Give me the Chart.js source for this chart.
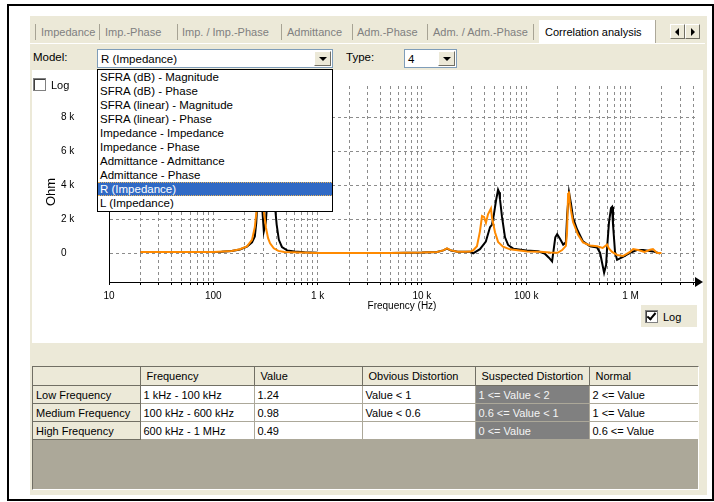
<!DOCTYPE html>
<html>
<head>
<meta charset="utf-8">
<script src="https://cdn.jsdelivr.net/npm/chart.js@4.4.1/dist/chart.umd.min.js"></script>
<style>
  body { margin: 0; width: 714px; height: 502px; position: relative; overflow: hidden; background: #fff;
         font-family: "Liberation Sans", Arial, sans-serif; font-size: 11.5px; color: #000; }
  .abs { position: absolute; }
  #frame { left: 7px; top: 4px; width: 703px; height: 493px; border: 2px solid #000; }
  #panel { left: 30px; top: 16px; width: 677px; height: 479px; background: #ece9d8; }
  .tab { top: 25px; line-height: 14px; color: #808080; white-space: nowrap; font-size: 11px; }
  .sep { top: 24px; width: 1px; height: 16px; background: #a7a394; }
  #selTab { left: 539px; top: 20px; width: 116px; height: 23px; background: #fff; border-right: 1px solid #aca899; }
  #selTab span { position: absolute; left: 6px; top: 5px; line-height: 14px; white-space: nowrap; font-size: 11px; }
  #tabLine { left: 30px; top: 43px; width: 675px; height: 1px; background: #fff; }
  .arrBtn { top: 24px; width: 13px; height: 13px; background: #ece9d8;
            border-top: 1px solid #fff; border-left: 1px solid #fff; border-right: 1px solid #716f64; border-bottom: 1px solid #716f64; }
  .tri { position: absolute; top: 3px; width: 0; height: 0; border-top: 4px solid transparent; border-bottom: 4px solid transparent; }
  .lbl { line-height: 14px; white-space: nowrap; }
  .combo { top: 49px; height: 17px; background: #fff; border: 1px solid #7f9db9; }
  .combo span { position: absolute; left: 3px; top: 2px; line-height: 14px; white-space: nowrap; }
  .cbtn { position: absolute; top: 1px; right: 1px; width: 15px; height: 13px; background: #ece9d8;
          border-top: 1px solid #fff; border-left: 1px solid #fff; border-right: 1px solid #716f64; border-bottom: 1px solid #716f64; }
  .cbtn i { position: absolute; left: 4px; top: 5px; width: 0; height: 0; border-left: 4px solid transparent; border-right: 4px solid transparent; border-top: 4px solid #000; }
  #plot { left: 32px; top: 70px; width: 671px; height: 273px; background: #fff; }
  .chk { width: 11px; height: 11px; background: #fff; border: 1px solid #808080; box-shadow: inset 1px 1px 0 #404040; }
  .tick { position: absolute; left: 3px; top: 0px; width: 3px; height: 7px; border-right: 2px solid #000; border-bottom: 2px solid #000; transform: rotate(40deg); }
  #logBox { left: 641px; top: 305px; width: 56px; height: 22px; background: #ece9d8; }
  #drop { left: 97px; top: 69px; width: 234px; height: 141px; background: #fff; border: 1px solid #000; z-index: 5;
          font-size: 11.5px; }
  #drop div { height: 14px; line-height: 14px; padding-left: 2px; white-space: nowrap; box-sizing: border-box; }
  #drop div.on { background: #316ac5; color: #fff; border-top: 1px dotted #e6b35c; border-bottom: 1px dotted #e6b35c; line-height: 12px; }
  #grid { left: 32px; top: 366px; width: 665px; height: 122px; background: #aca899;
          border-top: 1px solid #716f64; border-left: 1px solid #716f64; border-right: 1px solid #fff; border-bottom: 1px solid #fff; overflow: hidden; }
  #grid table { border-collapse: collapse; table-layout: fixed; width: 665px; font-size: 11px; }
  #grid th, #grid td { height: 17px; padding: 0 0 0 3px; text-align: left; font-weight: normal; white-space: nowrap; overflow: hidden; }
  #grid th { background: #ece9d8; border-right: 1px solid #716f64; border-bottom: 1px solid #716f64; }
  #grid tr.hd th { padding-left: 6px; height: 18px; }
  #grid td { background: #fff; border-right: 1px solid #aca899; border-bottom: 1px solid #aca899; }
  #grid td.sus { background: #808080; color: #f4f4f4; }
</style>
</head>
<body>
<div id="frame" class="abs"></div>
<div id="panel" class="abs"></div>

<!-- tab strip -->
<div class="abs sep" style="left:35px"></div>
<div class="abs tab" style="left:41px">Impedance</div>
<div class="abs sep" style="left:99px"></div>
<div class="abs tab" style="left:105px">Imp.-Phase</div>
<div class="abs sep" style="left:177px"></div>
<div class="abs tab" style="left:182px">Imp. / Imp.-Phase</div>
<div class="abs sep" style="left:281px"></div>
<div class="abs tab" style="left:287px">Admittance</div>
<div class="abs sep" style="left:352px"></div>
<div class="abs tab" style="left:357px">Adm.-Phase</div>
<div class="abs sep" style="left:427px"></div>
<div class="abs tab" style="left:433px">Adm. / Adm.-Phase</div>
<div class="abs sep" style="left:533px"></div>
<div id="tabLine" class="abs"></div>
<div id="selTab" class="abs"><span>Correlation analysis</span></div>
<div class="abs arrBtn" style="left:670px"><i class="tri" style="left:4px;border-right:4px solid #000"></i></div>
<div class="abs arrBtn" style="left:685px"><i class="tri" style="left:5px;border-left:4px solid #000"></i></div>

<!-- model / type selectors -->
<div class="abs lbl" style="left:33px;top:50px">Model:</div>
<div class="abs combo" style="left:97px;width:234px"><span>R (Impedance)</span><div class="cbtn"><i></i></div></div>
<div class="abs lbl" style="left:346px;top:50px">Type:</div>
<div class="abs combo" style="left:404px;width:51px"><span>4</span><div class="cbtn"><i></i></div></div>

<div id="plot" class="abs"><canvas id="corrChart" width="671" height="273"></canvas></div>

<!-- log checkboxes -->
<div class="abs chk" style="left:33px;top:78px"></div>
<div class="abs lbl" style="left:51px;top:78px;font-size:11px">Log</div>
<div id="logBox" class="abs"></div>
<div class="abs chk" style="left:645px;top:310px"><div class="tick"></div></div>
<div class="abs lbl" style="left:663px;top:310px;font-size:11px">Log</div>

<!-- open model list -->
<div id="drop" class="abs">
  <div>SFRA (dB) - Magnitude</div>
  <div>SFRA (dB) - Phase</div>
  <div>SFRA (linear) - Magnitude</div>
  <div>SFRA (linear) - Phase</div>
  <div>Impedance - Impedance</div>
  <div>Impedance - Phase</div>
  <div>Admittance - Admittance</div>
  <div>Admittance - Phase</div>
  <div class="on">R (Impedance)</div>
  <div>L (Impedance)</div>
</div>

<!-- result grid -->
<div id="grid" class="abs">
<table>
  <colgroup><col style="width:107px"><col style="width:114px"><col style="width:108px"><col style="width:113px"><col style="width:114px"><col style="width:109px"></colgroup>
  <tr class="hd"><th></th><th>Frequency</th><th>Value</th><th>Obvious Distortion</th><th>Suspected Distortion</th><th>Normal</th></tr>
  <tr><th>Low Frequency</th><td>1 kHz - 100 kHz</td><td>1.24</td><td>Value &lt; 1</td><td class="sus">1 &lt;= Value &lt; 2</td><td>2 &lt;= Value</td></tr>
  <tr><th>Medium Frequency</th><td>100 kHz - 600 kHz</td><td>0.98</td><td>Value &lt; 0.6</td><td class="sus">0.6 &lt;= Value &lt; 1</td><td>1 &lt;= Value</td></tr>
  <tr><th>High Frequency</th><td>600 kHz - 1 MHz</td><td>0.49</td><td></td><td class="sus">0 &lt;= Value</td><td>0.6 &lt;= Value</td></tr>
</table>
</div>

<script>
// axis ticks
const decadeFreqs = [10, 100, 1000, 10000, 100000, 1000000];
const decadeLabels = ['10', '100', '1 k', '10 k', '100 k', '1 M'];
const ohmTicks = [0, 2000, 4000, 6000, 8000];
const ohmLabels = ['0', '2 k', '4 k', '6 k', '8 k'];

// reference trace (black), Hz / Ohm
const blackFreq = [20, 40, 80, 120, 150, 180, 210, 235, 250, 258, 268, 280, 292, 305, 318, 335, 350, 362, 375, 390, 405, 425, 455, 510, 600, 750,
  1000, 5000, 10000, 14000, 16000, 17400, 19000, 22000, 26000, 29000, 31000, 36000, 41000, 45000, 47000, 49000, 51300, 53700, 55000, 56000,
  58600, 62600, 67000, 75000, 100000, 130000, 150000, 165000, 177000, 183000, 190000, 198000, 212000, 226000, 240000, 247000, 257000,
  269000, 281000, 307000, 350000, 409000, 478000, 511000, 534000, 558000, 583000, 596000, 622000, 650000, 665000, 679000, 710000, 743000,
  847000, 989000, 1150000, 1320000, 1640000, 1920000];
const blackOhm = [80, 80, 85, 100, 140, 230, 400, 650, 1000, 1800, 3600, 4800, 3000, 1300, 1800, 3600, 5000, 5500, 4400, 2800, 1700, 800, 380, 180, 110, 70,
  40, 30, 50, 90, 180, 280, 170, 100, 100, 100, 0, 250, 700, 1550, 1700, 2300, 3100, 3750, 3600, 3200,
  2150, 950, 500, 280, 170, 130, 0, -250, -470, 200, 950, 1130, 830, 520, 650, 2300, 3600,
  2900, 2100, 1420, 710, 415, 355, 30, -560, -1140, -680, 320, 1850, 2680, 2740, 1700, 100, -380,
  -200, 30, 200, 200, 120, 0];

// measured trace (orange), Hz / Ohm
const orangeFreq = [20, 50, 100, 150, 180, 210, 235, 250, 262, 274, 287, 297, 305, 320, 335, 350, 380, 420, 480,
  1000, 5000, 10000, 14000, 16000, 17400, 19000, 22000, 26000, 29000, 30900, 33700, 36000, 37700, 39400, 41100, 43000, 45900,
  47000, 50200, 53700, 59900, 69900, 102000, 136000, 169000, 200000, 221000, 240000, 246000, 252000, 257000, 262000, 269000,
  281000, 314000, 350000, 409000, 478000, 540000, 596000, 620000, 665000, 743000, 847000, 989000, 1060000, 1180000, 1360000,
  1540000, 1640000, 1800000, 1980000];
const orangeOhm = [80, 80, 90, 150, 250, 420, 800, 1550, 2700, 3900, 4300, 3300, 2500, 1500, 900, 600, 300, 150, 80,
  30, 30, 50, 90, 180, 300, 180, 100, 100, 110, 170, 420, 1300, 2200, 2150, 1800, 2300, 2650,
  2100, 1250, 680, 400, 240, 120, 100, 50, 40, 200, 450, 1200, 3500, 3650, 3000, 2500,
  1850, 1100, 650, 470, 420, 320, 520, 300, 90, -90, -150, 90, 260, 200, 90,
  220, 260, 30, 20];

const xMax = 4.15e6;
const fontFamily = '"Liberation Sans", Arial, sans-serif';

// dashed grid at 1..9 of every decade
const gridFreqs = [];
decadeFreqs.forEach((d) => {
    for (let m = 1; m <= 9; m++) {
        if (d * m <= xMax) gridFreqs.push(d * m);
    }
});

const toPoints = (xs, ys) => xs.map((f, i) => ({ x: f, y: ys[i] }));

// arrow head on the frequency axis and the rotated unit label
const axisDecor = {
    id: 'axisDecor',
    afterDraw(chart) {
        const { ctx, chartArea } = chart;
        const y0 = chartArea.bottom;
        ctx.save();
        ctx.fillStyle = '#000';
        ctx.beginPath();
        ctx.moveTo(chartArea.right, y0 - 5);
        ctx.lineTo(chartArea.right + 8, y0);
        ctx.lineTo(chartArea.right, y0 + 5);
        ctx.closePath();
        ctx.fill();
        ctx.translate(19, 122);
        ctx.rotate(-Math.PI / 2);
        ctx.font = '13px ' + fontFamily;
        ctx.textAlign = 'center';
        ctx.textBaseline = 'middle';
        ctx.fillText('Ohm', 0, 0);
        ctx.restore();
    },
};

Chart.defaults.font.family = fontFamily;
Chart.defaults.color = '#000';

const ctx = document.getElementById('corrChart').getContext('2d');
const chart = new Chart(ctx, {
    type: 'scatter',
    data: {
        datasets: [{
            data: toPoints(orangeFreq, orangeOhm),
            borderColor: '#ff8a00',
            borderWidth: 2,
            showLine: true,
            pointRadius: 0,
        }, {
            data: toPoints(blackFreq, blackOhm),
            borderColor: '#000',
            borderWidth: 2,
            showLine: true,
            pointRadius: 0,
        }],
    },
    options: {
        responsive: false,
        animation: false,
        devicePixelRatio: 1,
        layout: { padding: { left: 29, top: 16, right: 8, bottom: 31 } },
        plugins: { legend: { display: false }, tooltip: { enabled: false } },
        scales: {
            x: {
                type: 'logarithmic',
                min: 10,
                max: xMax,
                afterBuildTicks: (scale) => { scale.ticks = gridFreqs.map((v) => ({ value: v })); },
                afterFit: (scale) => { scale.height = 30; },
                ticks: {
                    autoSkip: false,
                    maxRotation: 0,
                    padding: 5,
                    font: { size: 10 },
                    callback: (v) => {
                        const i = decadeFreqs.indexOf(v);
                        return i < 0 ? '' : decadeLabels[i];
                    },
                },
                grid: { color: '#8c8c8c', tickLength: 3, tickColor: '#000', tickBorderDash: [] },
                border: { color: '#000', width: 1, dash: [3, 3] },
                title: { display: true, text: 'Frequency (Hz)', font: { size: 10 }, padding: { top: 0, bottom: 0 } },
            },
            y: {
                min: -1680,
                max: 9850,
                afterBuildTicks: (scale) => { scale.ticks = ohmTicks.map((v) => ({ value: v })); },
                afterFit: (scale) => { scale.width = 48; },
                ticks: {
                    crossAlign: 'far',
                    font: { size: 10 },
                    callback: (v) => {
                        const i = ohmTicks.indexOf(v);
                        return i < 0 ? '' : ohmLabels[i];
                    },
                },
                grid: { color: '#8c8c8c', drawTicks: false },
                border: { color: '#000', width: 1, dash: [3, 3] },
            },
        },
    },
    plugins: [axisDecor],
});
</script>
</body>
</html>
